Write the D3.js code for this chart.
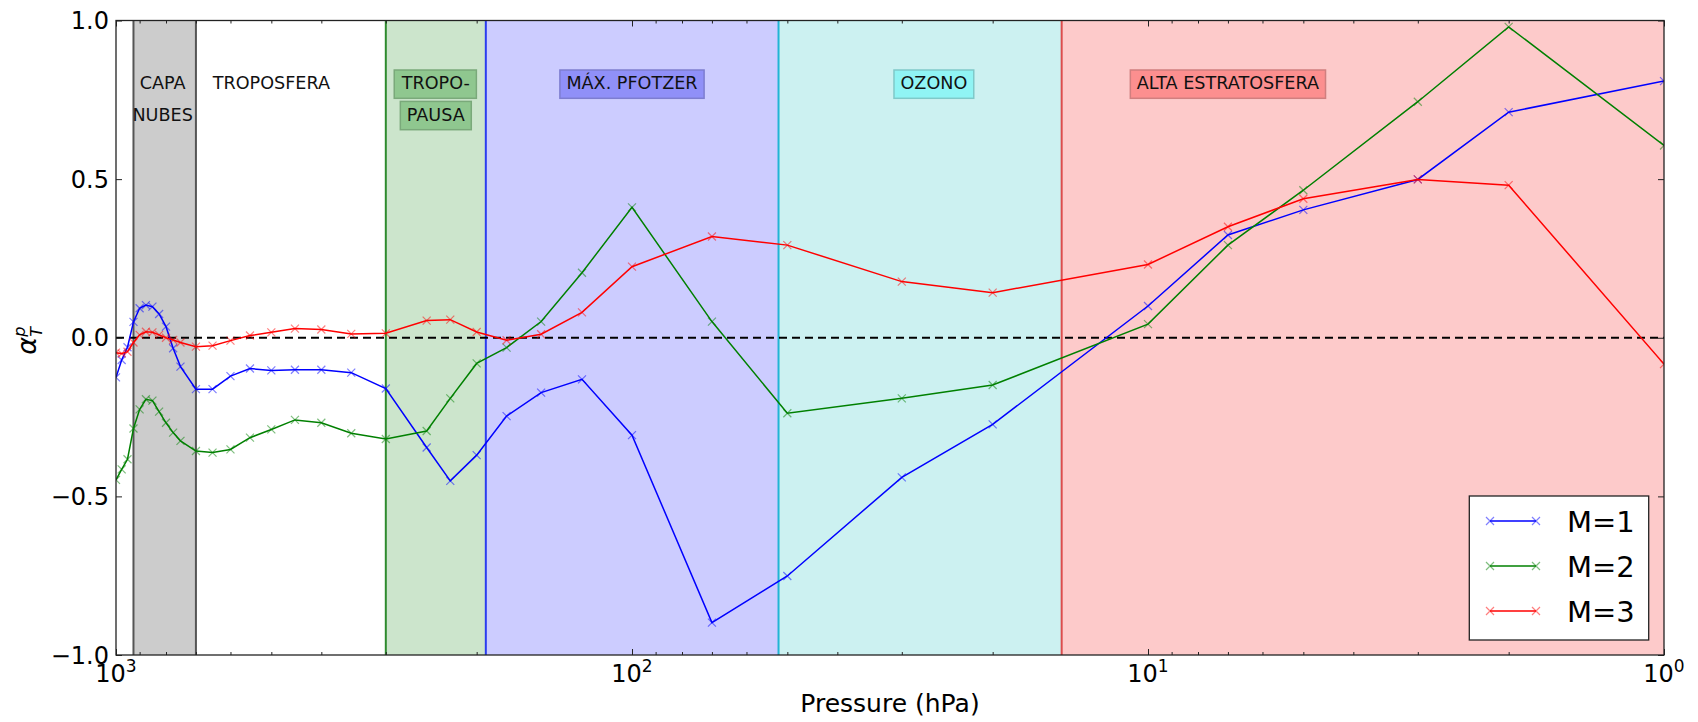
<!DOCTYPE html>
<html><head><meta charset="utf-8">
<script src="https://cdn.jsdelivr.net/npm/d3@7"></script>
<style>body{margin:0;background:#fff;} svg{display:block;} text{font-family:"DejaVu Sans",sans-serif;}</style>
</head><body><svg id="chart" width="1698" height="722"></svg>
<script>
// ---- data ----
const pressure = [1000,975,950,925,900,875,850,825,800,775,750,700,650,600,550,500,450,400,350,300,250,225,200,175,150,125,100,70,50,30,20,10,7,5,3,2,1];
const m1 = [-0.125,-0.07,-0.03,0.05,0.093,0.103,0.098,0.075,0.035,-0.033,-0.091,-0.162,-0.162,-0.121,-0.097,-0.103,-0.101,-0.101,-0.110,-0.160,-0.346,-0.451,-0.370,-0.247,-0.173,-0.131,-0.307,-0.898,-0.751,-0.440,-0.273,0.100,0.324,0.403,0.499,0.711,0.809];
const m2 = [-0.448,-0.415,-0.383,-0.286,-0.226,-0.194,-0.198,-0.233,-0.268,-0.299,-0.325,-0.357,-0.362,-0.352,-0.315,-0.289,-0.259,-0.268,-0.301,-0.319,-0.294,-0.191,-0.081,-0.031,0.051,0.205,0.411,0.051,-0.238,-0.191,-0.149,0.043,0.292,0.465,0.744,0.980,0.606];
const m3 = [-0.047,-0.050,-0.044,-0.015,0.009,0.019,0.017,0.009,0.000,-0.007,-0.015,-0.028,-0.025,-0.009,0.007,0.017,0.029,0.026,0.012,0.014,0.054,0.057,0.018,-0.008,0.011,0.080,0.224,0.319,0.292,0.177,0.142,0.231,0.350,0.438,0.499,0.481,-0.083];
const seriesNames = ["M=1","M=2","M=3"];
const seriesColors = ["#0000ff","#008000","#ff0000"];

const yTicks = [-1,-0.5,0,0.5,1];
const yTickLabels = ["\u22121.0","\u22120.5","0.0","0.5","1.0"];
const xMajorTicks = [1000,100,10,1];
const xTickExponents = ["3","2","1","0"];

// atmospheric regions (pressure bounds)
const bandFrom = [925, 300, 192, 52, 14.7];
const bandTo   = [700, 192, 52, 14.7, 1];
const bandFill = ["#cccccc","#cce5cc","#ccccff","#ccf1f1","#fdcaca"];
const bandEdge = ["#555555","#2e8b2e","#2a3cf0","#22b4d4","#dd4c4c"];

const regionText = [["CAPA","NUBES"],["TROPOSFERA"],["TROPO-","PAUSA"],["MÁX. PFOTZER"],["OZONO"],["ALTA ESTRATOSFERA"]];
const regionAt = [812, 500, 240, 100, 26, 7];
const regionBox = [null, null, "#8fc78f", "#9090f8", "#90f4f4", "#fc8f8f"];
const regionBoxEdge = [null, null, "#7aa97a", "#7d7dd0", "#7fc9c9", "#d07f7f"];

// ---- chart ----
const svg = d3.select("#chart");
const L=116, R=1664, T=20.5, B=655;
const x = d3.scaleLog().domain([1000,1]).range([L,R]);
const y = d3.scaleLinear().domain([-1,1]).range([B,T]);

svg.append("defs").append("clipPath").attr("id","clip")
  .append("rect").attr("x",L).attr("y",T).attr("width",R-L).attr("height",B-T);

// bands
const bands = bandFrom.map((f,i)=>({f, t:bandTo[i], fill:bandFill[i], edge:bandEdge[i]}));
svg.append("g").selectAll("rect").data(bands).join("rect")
  .attr("x",d=>x(d.f)).attr("y",T).attr("width",d=>x(d.t)-x(d.f)).attr("height",B-T)
  .attr("fill",d=>d.fill);
svg.append("g").selectAll("line").data(bands).join("line")
  .attr("x1",d=>x(d.f)).attr("x2",d=>x(d.f)).attr("y1",T).attr("y2",B)
  .attr("stroke",d=>d.edge).attr("stroke-width",2);
svg.append("line").attr("x1",x(bandTo[0])).attr("x2",x(bandTo[0])).attr("y1",T).attr("y2",B)
  .attr("stroke",bandEdge[0]).attr("stroke-width",2);

// region labels
const lg = svg.append("g");
regionText.forEach((lines,i)=>{
  lines.forEach((s,j)=>{
    const by = 89.3 + j*31.4;
    const t = lg.append("text").attr("x",x(regionAt[i])).attr("y",by)
      .attr("text-anchor","middle").attr("font-size",17.6).attr("fill","#111").text(s);
    if(regionBox[i]){
      const bb = t.node().getBBox();
      lg.insert("rect","text").attr("x",bb.x-6.5).attr("y",by-19.3).attr("width",bb.width+13).attr("height",28.3)
        .attr("fill",regionBox[i]).attr("stroke",regionBoxEdge[i]).attr("stroke-width",1.5);
    }
  });
});

// zero line
svg.append("line").attr("x1",L).attr("x2",R).attr("y1",y(0)).attr("y2",y(0))
  .attr("stroke","#000").attr("stroke-width",2).attr("stroke-dasharray","8,5");

// series
const series = [m1,m2,m3];
const line = d3.line().x(d=>x(d.p)).y(d=>y(d.v));
const xMark = "M-4,-4L4,4M-4,4L4,-4";
const sg = svg.append("g").attr("clip-path","url(#clip)");
series.forEach((vals,i)=>{
  const pts = pressure.map((p,k)=>({p, v:vals[k]}));
  sg.append("path").datum(pts).attr("d",line).attr("fill","none")
    .attr("stroke",seriesColors[i]).attr("stroke-width",1.5);
  sg.append("g").selectAll("path").data(pts).join("path")
    .attr("d",xMark).attr("transform",d=>`translate(${x(d.p)},${y(d.v)})`)
    .attr("stroke",seriesColors[i]).attr("stroke-width",1.2).attr("stroke-opacity",0.5).attr("fill","none");
});

// axes ticks
const minor = x.ticks().filter(v=>!xMajorTicks.includes(v));
function styleAxis(g){ g.select(".domain").remove(); g.selectAll(".tick line").attr("stroke","#222").attr("stroke-width",1); }
svg.append("g").attr("transform",`translate(0,${B})`).call(d3.axisBottom(x).tickValues(xMajorTicks).tickSize(-6).tickFormat("")).call(styleAxis);
svg.append("g").attr("transform",`translate(0,${B})`).call(d3.axisBottom(x).tickValues(minor).tickSize(-3).tickFormat("")).call(styleAxis);
svg.append("g").attr("transform",`translate(0,${T})`).call(d3.axisTop(x).tickValues(xMajorTicks).tickSize(-6).tickFormat("")).call(styleAxis);
svg.append("g").attr("transform",`translate(0,${T})`).call(d3.axisTop(x).tickValues(minor).tickSize(-3).tickFormat("")).call(styleAxis);
svg.append("g").attr("transform",`translate(${L},0)`).call(d3.axisLeft(y).tickValues(yTicks).tickSize(-6).tickFormat("")).call(styleAxis);
svg.append("g").attr("transform",`translate(${R},0)`).call(d3.axisRight(y).tickValues(yTicks).tickSize(-6).tickFormat("")).call(styleAxis);

// frame
svg.append("rect").attr("x",L).attr("y",T).attr("width",R-L).attr("height",B-T)
  .attr("fill","none").attr("stroke","#222").attr("stroke-width",1.3);

// tick labels
svg.append("g").selectAll("text").data(yTicks).join("text")
  .attr("x",L-7).attr("y",d=>y(d)).attr("dy","0.36em").attr("text-anchor","end")
  .attr("font-size",24).attr("fill","#000").text((d,i)=>yTickLabels[i]);
const xl = svg.append("g").selectAll("text").data(xMajorTicks).join("text")
  .attr("x",d=>x(d)).attr("y",682).attr("text-anchor","middle").attr("font-size",24).attr("fill","#000");
xl.append("tspan").text("10");
xl.append("tspan").attr("dy",-10).attr("font-size",17).text((d,i)=>xTickExponents[i]);

// axis titles
svg.append("text").attr("x",(L+R)/2).attr("y",712).attr("text-anchor","middle")
  .attr("font-size",25).attr("fill","#000").text("Pressure (hPa)");
const yl = svg.append("g").attr("transform",`translate(0,${(T+B)/2}) rotate(-90)`);
yl.append("text").attr("x",-17).attr("y",36).attr("font-family","DejaVu Serif").attr("font-style","italic")
  .attr("font-size",27).attr("fill","#000").text("α");
yl.append("text").attr("x",1).attr("y",25).attr("font-family","DejaVu Serif").attr("font-style","italic")
  .attr("font-size",16).attr("fill","#000").text("p");
yl.append("text").attr("x",1).attr("y",42).attr("font-family","DejaVu Serif").attr("font-style","italic")
  .attr("font-size",16).attr("fill","#000").text("T");

// legend
const leg = svg.append("g");
leg.append("rect").attr("x",1469.3).attr("y",496).attr("width",179.4).attr("height",144)
  .attr("fill","#fff").attr("stroke","#222").attr("stroke-width",1.3);
seriesNames.forEach((n,i)=>{
  const ly = 521 + i*45;
  leg.append("line").attr("x1",1490).attr("x2",1536).attr("y1",ly).attr("y2",ly)
    .attr("stroke",seriesColors[i]).attr("stroke-width",1.5);
  [1490,1536].forEach(mx=>leg.append("path").attr("d",xMark).attr("transform",`translate(${mx},${ly})`)
    .attr("stroke",seriesColors[i]).attr("stroke-width",1.2).attr("stroke-opacity",0.5).attr("fill","none"));
  leg.append("text").attr("x",1567).attr("y",ly+10.5).attr("font-size",29).attr("fill","#000").text(n);
});
</script></body></html>
